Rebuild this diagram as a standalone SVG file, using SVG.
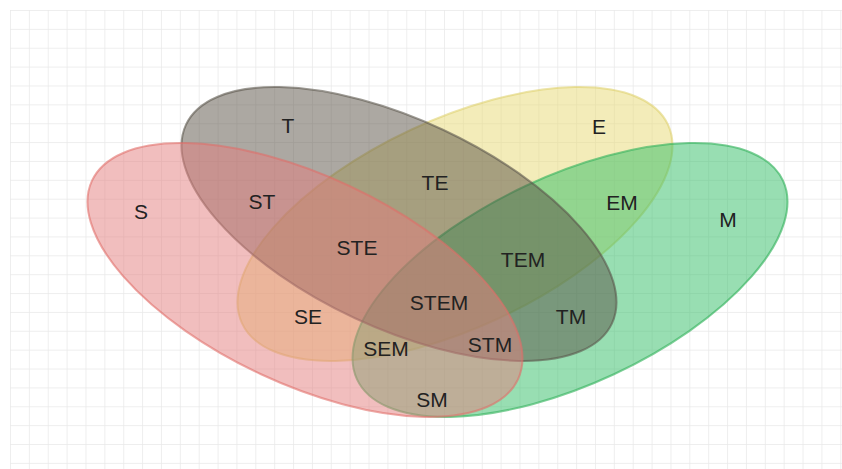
<svg xmlns="http://www.w3.org/2000/svg" width="842" height="469" viewBox="0 0 842 469">
  <defs>
    <pattern id="grid" x="10" y="10" width="18.87" height="18.87" patternUnits="userSpaceOnUse">
      <path d="M0 0H18.87M0 0V18.87" fill="none" stroke="#e9e9e9" stroke-width="1.5"/>
    </pattern>
  </defs>
  <style>
    .set { stroke-width: 2; }
    .lbl { font-family: "Liberation Sans", Arial, sans-serif; font-size: 21px; fill: #222222; text-anchor: middle; dominant-baseline: central; }
  </style>
  <rect width="842" height="469" fill="#ffffff"/>
  <rect x="10" y="10" width="832" height="459" fill="url(#grid)"/>
  <g id="sets">
    <g id="E"><ellipse class="set" cx="455" cy="224" rx="235" ry="104" transform="rotate(-25 455 224)" fill="rgba(231,217,115,0.5)" stroke="rgba(220,205,100,0.55)"/></g>
    <g id="M"><ellipse class="set" cx="570" cy="280" rx="235" ry="104" transform="rotate(-25 570 280)" fill="rgba(49,189,101,0.5)" stroke="rgba(55,180,95,0.65)"/></g>
    <g id="T"><ellipse class="set" cx="399" cy="224" rx="235" ry="104" transform="rotate(25 399 224)" fill="rgba(89,81,69,0.5)" stroke="rgba(90,85,75,0.6)"/></g>
    <g id="S"><ellipse class="set" cx="305" cy="280" rx="235" ry="104" transform="rotate(25 305 280)" fill="rgba(227,125,125,0.5)" stroke="rgba(225,110,105,0.6)"/></g>
  </g>
  <g id="labels">
    <text class="lbl" x="288" y="125">T</text>
    <text class="lbl" x="599" y="126">E</text>
    <text class="lbl" x="141" y="211">S</text>
    <text class="lbl" x="262" y="201">ST</text>
    <text class="lbl" x="435" y="182">TE</text>
    <text class="lbl" x="622" y="202">EM</text>
    <text class="lbl" x="728" y="219">M</text>
    <text class="lbl" x="357" y="247">STE</text>
    <text class="lbl" x="523" y="259">TEM</text>
    <text class="lbl" x="308" y="316">SE</text>
    <text class="lbl" x="439" y="302">STEM</text>
    <text class="lbl" x="571" y="316">TM</text>
    <text class="lbl" x="386" y="348">SEM</text>
    <text class="lbl" x="490" y="344">STM</text>
    <text class="lbl" x="432" y="399">SM</text>
  </g>
</svg>
